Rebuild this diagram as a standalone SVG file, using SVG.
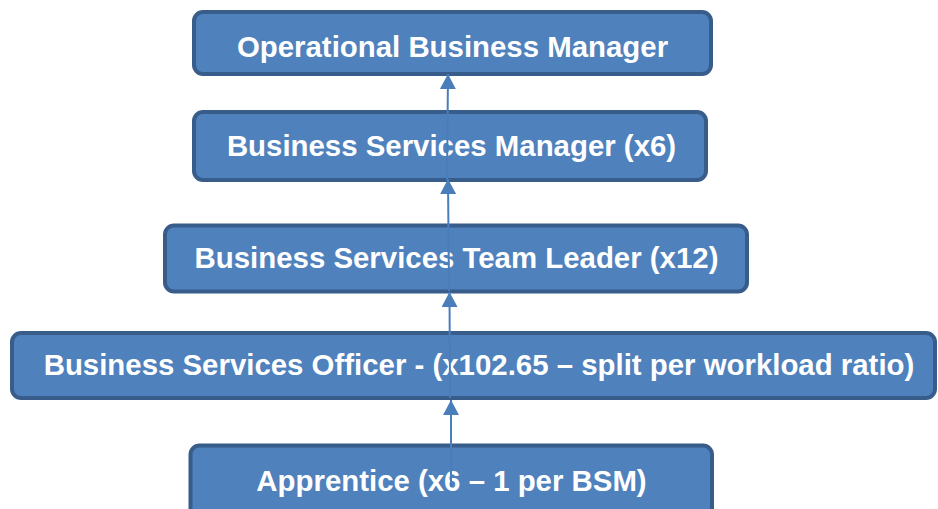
<svg xmlns="http://www.w3.org/2000/svg" width="938" height="509" viewBox="0 0 938 509">
<defs>
<style>
.box{fill:#4f81bd;stroke:#385d8a;stroke-width:4}
.lbl{fill:#ffffff;font-family:"Liberation Sans",Arial,sans-serif;font-weight:bold;font-size:29.4px;text-anchor:middle}
.conn{stroke:#4a7ebb;stroke-width:2;fill:none;marker-end:url(#arr)}
</style>
<marker id="arr" viewBox="0 0 15 16" refX="15" refY="8" markerWidth="15" markerHeight="16" markerUnits="userSpaceOnUse" orient="auto">
<path d="M0,0 L15,8 L0,16 z" fill="#4a7ebb"/>
</marker>
</defs>
<rect width="938" height="509" fill="#ffffff"/>
<g id="node-obm">
<rect class="box" x="194" y="12" width="517" height="62" rx="9"/>
<text class="lbl" x="452.5" y="57">Operational Business Manager</text>
</g>
<g id="node-bsm">
<rect class="box" x="194" y="112" width="512" height="68" rx="9"/>
<text class="lbl" x="451.5" y="156">Business Services Manager (x6)</text>
</g>
<g id="node-bstl">
<rect class="box" x="165" y="225.5" width="582" height="66" rx="9"/>
<text class="lbl" x="456.5" y="268">Business Services Team Leader (x12)</text>
</g>
<g id="node-bso">
<rect class="box" x="12" y="333" width="923" height="65" rx="9"/>
<text class="lbl" x="479" y="375">Business Services Officer - (x102.65 – split per workload ratio)</text>
</g>
<g id="node-apprentice">
<rect class="box" x="190.5" y="445.5" width="521.5" height="72" rx="9"/>
<text class="lbl" x="451.5" y="491">Apprentice (x6 – 1 per BSM)</text>
</g>
<g id="connectors">
<line class="conn" x1="451" y1="487" x2="451" y2="400"/>
<line class="conn" x1="450" y1="398" x2="449.5" y2="292"/>
<line class="conn" x1="449" y1="291" x2="448" y2="179"/>
<line class="conn" x1="447" y1="180" x2="448" y2="74"/>
</g>
</svg>
